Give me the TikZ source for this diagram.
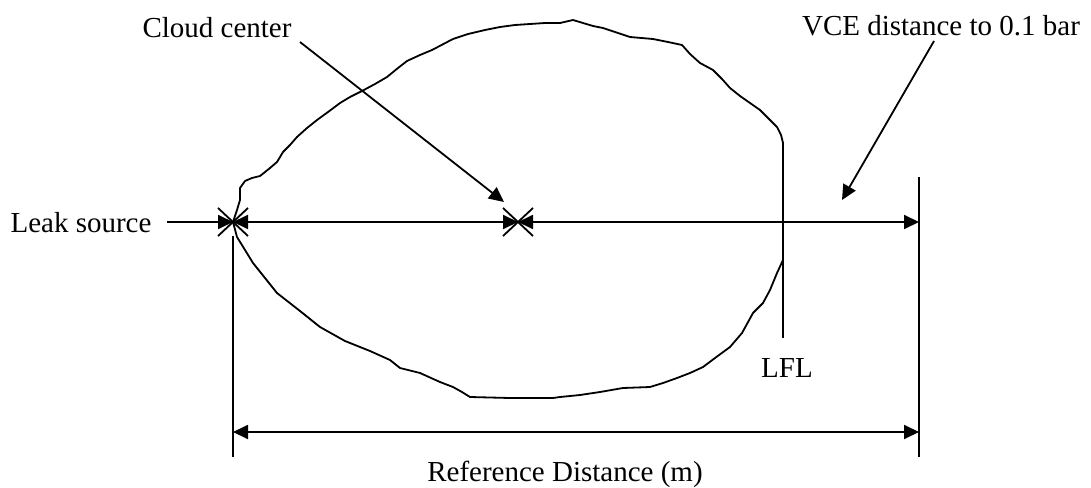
\documentclass[tikz,border=0pt]{standalone}
\usepackage{fontspec}
\setmainfont{Liberation Serif}
\usetikzlibrary{arrows.meta,positioning,calc}

\begin{document}
\begin{tikzpicture}[x=0.5pt,y=-0.5pt,line width=0.9pt,
    pointer/.style={-{Triangle[length=7.5pt,width=7pt]}},
    dimline/.style={{Triangle[length=7.5pt,width=7pt]}-{Triangle[length=7.5pt,width=7pt]}},
    lbl/.style={font=\fontsize{14.5}{17}\selectfont,anchor=base,inner sep=0pt}]
        \useasboundingbox (0,0) rectangle (1091,487);
        \draw[line join=round] plot coordinates {
          (233,222) (237,210) (240,200) (240,188) (245,181) (252,178) (260,176)
          (270,168) (277,162) (283,152) (290,145) (297,137) (307,128) (317,120)
          (328,112) (340,103) (350,97) (362,91) (375,84) (387,77) (398,68)
          (407,61) (420,55) (432,50) (453,39) (468,34) (485,30) (500,27)
          (515,25) (530,24) (545,23) (560,23) (573,20) (583,23) (593,26)
          (603,28) (615,32) (630,37) (653,39) (668,42) (682,45) (690,54)
          (700,63) (713,70) (722,79) (730,88) (740,96) (750,103) (760,110)
          (770,120) (777,127) (781,135) (783,143) (783,200) (783,260) (777,273)
          (770,290) (763,303) (753,313) (742,333) (730,347) (715,358) (703,367)
          (690,373) (677,378) (663,383) (650,387) (623,388) (600,392) (580,395)
          (560,397) (553,398) (510,398) (470,397) (462,392) (453,387) (440,382)
          (420,373) (400,368) (390,360) (370,351) (345,341) (320,327) (300,311)
          (277,293) (265,278) (253,263) (245,250) (237,237)} -- cycle;
        \coordinate (src) at (233,222);
        \coordinate (ctr) at (518,222);
        \coordinate (edge) at (919,222);
        \foreach \p in {src,ctr} {
          \draw ($(\p)+(-15,-14)$) -- ($(\p)+(15,14)$);
          \draw ($(\p)+(-15,14)$) -- ($(\p)+(15,-14)$);
        }
        \node[lbl] (leak) at (81,232) {Leak source};
        \node[lbl] (cloudc) at (217,37) {Cloud center};
        \node[lbl] (vce) at (941,35) {VCE distance to 0.1 bar};
        \node[lbl] (lfl) at (787,377) {LFL};
        \node[lbl] (refd) at (565,481) {Reference Distance (m)};
        \coordinate (leakend) at (167,222);
        \coordinate (cloudend) at (300,42);
        \coordinate (cloudtip) at (504,202);
        \coordinate (vceend) at (934,41);
        \coordinate (vcetip) at (842,200);
        \coordinate (lfltop) at (783,143);
        \coordinate (lflbot) at (783,338);
        \coordinate (ltop) at (233,236);
        \coordinate (lbot) at (233,457);
        \coordinate (rtop) at (919,177);
        \coordinate (rbot) at (919,457);
        \coordinate (bl) at (233,432);
        \coordinate (br) at (919,432);
        \draw[pointer] (leakend) -- (src);
        \draw[pointer] (cloudend) -- (cloudtip);
        \draw[pointer] (vceend) -- (vcetip);
        \draw[dimline] (src) -- (ctr);
        \draw[dimline] (ctr) -- (edge);
        \draw[dimline] (bl) -- (br);
        \draw (lfltop) -- (lflbot);
        \draw (ltop) -- (lbot);
        \draw (rtop) -- (rbot);
      \end{tikzpicture}
\end{document}
